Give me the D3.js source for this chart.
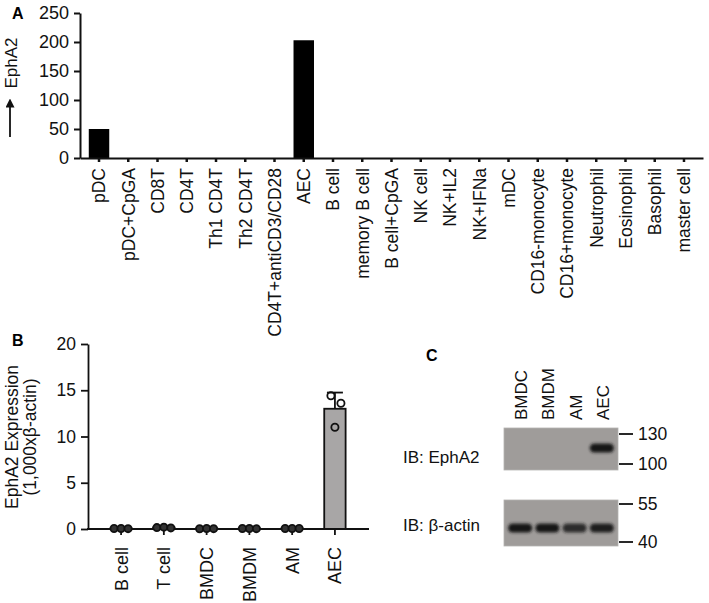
<!DOCTYPE html>
<html>
<head>
<meta charset="utf-8">
<script src="https://cdn.jsdelivr.net/npm/d3@7"></script>
<style>
  body { margin: 0; background: #fff; }
  svg { display: block; font-family: "Liberation Sans", Arial, sans-serif; }
</style>
</head>
<body>
<svg id="chart" width="709" height="603"></svg>
<script>
// ---------------- Panel A data ----------------
const cellTypesA = ["pDC", "pDC+CpGA", "CD8T", "CD4T", "Th1 CD4T", "Th2 CD4T",
  "CD4T+antiCD3/CD28", "AEC", "B cell", "memory B cell", "B cell+CpGA", "NK cell",
  "NK+IL2", "NK+IFNa", "mDC", "CD16-monocyte", "CD16+monocyte", "Neutrophil",
  "Eosinophil", "Basophil", "master cell"];
const ephA2ValuesA = [50, 0, 0, 0, 0, 0, 0, 203, 0, 0, 0, 0, 0, 0, 0, 0, 0, 0, 0, 0, 0];
const yTicksA = [0, 50, 100, 150, 200, 250];

// ---------------- Panel B data ----------------
const cellTypesB = ["B cell", "T cell", "BMDC", "BMDM", "AM", "AEC"];
const meansB = [0.05, 0.15, 0.05, 0.05, 0.05, 13.0];
const sdB = [0.05, 0.05, 0.03, 0.03, 0.03, 1.75];
const replicatesB = [
  [0.05, 0.06, 0.04],
  [0.15, 0.2, 0.12],
  [0.03, 0.05, 0.04],
  [0.05, 0.06, 0.04],
  [0.06, 0.05, 0.05],
  [14.4, 13.6, 11.0]
];
const yTicksB = [0, 5, 10, 15, 20];

// ---------------- Panel C data ----------------
const lanesC = ["BMDC", "BMDM", "AM", "AEC"];
const ephA2BandIntensity = [0, 0, 0, 1];
const actinBandIntensity = [1, 1, 0.85, 0.95];
const markersEphA2 = [130, 100];
const markersActin = [55, 40];
const ephA2BandKDa = 115;
const actinBandKDa = 45;

const svg = d3.select("#chart");
const ink = "#111";
const FF = "Liberation Sans, Arial";

// ======================= PANEL A =======================
const xA = d3.scaleBand().domain(cellTypesA).range([80, 703]).padding(0.3);
const yA = d3.scaleLinear().domain([0, 250]).range([158, 13]);

svg.append("text").attr("x", 12).attr("y", 19).attr("font-size", 16)
  .attr("font-weight", "bold").text("A");

svg.append("g").selectAll("rect").data(cellTypesA).join("rect")
  .attr("x", d => xA(d))
  .attr("width", xA.bandwidth())
  .attr("y", (d, i) => yA(ephA2ValuesA[i]))
  .attr("height", (d, i) => yA(0) - yA(ephA2ValuesA[i]))
  .attr("fill", "#000");

const gyA = svg.append("g").attr("transform", "translate(80,0)")
  .call(d3.axisLeft(yA).tickValues(yTicksA).tickSize(6).tickSizeOuter(0).tickPadding(5));
gyA.selectAll("text").attr("font-size", 18).attr("fill", ink).attr("font-family", FF);
gyA.selectAll("line,path").attr("stroke", ink).attr("stroke-width", 2);

const gxA = svg.append("g").attr("transform", `translate(0,${yA(0)})`)
  .call(d3.axisBottom(xA).tickSize(4).tickSizeOuter(0));
gxA.select(".domain").attr("stroke", ink).attr("stroke-width", 2);
gxA.selectAll(".tick line").attr("stroke", ink).attr("stroke-width", 2.5);
gxA.selectAll(".tick text")
  .attr("font-size", 17.5).attr("fill", ink).attr("font-family", FF)
  .attr("text-anchor", "end")
  .attr("transform", "rotate(-90)")
  .attr("x", -10).attr("y", 0).attr("dy", "0.36em");

// y label with arrow
svg.append("text").attr("transform", "translate(17,63) rotate(-90)")
  .attr("text-anchor", "middle").attr("font-size", 17).attr("fill", ink).text("EphA2");
const defs = svg.append("defs");
defs.append("marker").attr("id", "ah").attr("viewBox", "0 0 10 10")
  .attr("refX", 5).attr("refY", 5).attr("markerWidth", 5).attr("markerHeight", 5)
  .attr("orient", "auto").append("path").attr("d", "M0,0 L10,5 L0,10 z").attr("fill", ink);
svg.append("line").attr("x1", 10).attr("x2", 10).attr("y1", 137).attr("y2", 103)
  .attr("stroke", ink).attr("stroke-width", 1.8).attr("marker-end", "url(#ah)");

// ======================= PANEL B =======================
const xB = d3.scaleBand().domain(cellTypesB).range([89, 367]).padding(0.5);
const yB = d3.scaleLinear().domain([0, 20]).range([529, 344]);

svg.append("text").attr("x", 12).attr("y", 346).attr("font-size", 16)
  .attr("font-weight", "bold").text("B");

svg.append("g").selectAll("rect").data(cellTypesB).join("rect")
  .attr("x", d => xB(d))
  .attr("width", xB.bandwidth())
  .attr("y", (d, i) => yB(meansB[i]))
  .attr("height", (d, i) => yB(0) - yB(meansB[i]))
  .attr("fill", "#a8a6a6").attr("stroke", ink).attr("stroke-width", 1.8);

const errG = svg.append("g").attr("stroke", ink).attr("stroke-width", 1.8);
cellTypesB.forEach((c, i) => {
  const cx = xB(c) + xB.bandwidth() / 2;
  errG.append("line").attr("x1", cx).attr("x2", cx)
    .attr("y1", yB(meansB[i])).attr("y2", yB(meansB[i] + sdB[i]));
  errG.append("line").attr("x1", cx - 8).attr("x2", cx + 8)
    .attr("y1", yB(meansB[i] + sdB[i])).attr("y2", yB(meansB[i] + sdB[i]));
});

const gyB = svg.append("g").attr("transform", "translate(88,0)")
  .call(d3.axisLeft(yB).tickValues(yTicksB).tickSize(7).tickSizeOuter(0).tickPadding(5));
gyB.selectAll("text").attr("font-size", 17.5).attr("fill", ink).attr("font-family", FF);
gyB.selectAll("line,path").attr("stroke", ink).attr("stroke-width", 1.8);

const gxB = svg.append("g").attr("transform", `translate(0,${yB(0)})`)
  .call(d3.axisBottom(xB).tickSize(6).tickSizeOuter(0));
gxB.select(".domain").attr("stroke", ink).attr("stroke-width", 1.8)
  .attr("d", "M87,0H369");
gxB.selectAll(".tick line").attr("stroke", ink).attr("stroke-width", 1.8);
gxB.selectAll(".tick text")
  .attr("font-size", 18).attr("fill", ink).attr("font-family", FF)
  .attr("text-anchor", "end")
  .attr("transform", "rotate(-90)")
  .attr("x", -18).attr("y", 0).attr("dy", "0.36em");

const ptG = svg.append("g");
replicatesB.forEach((vals, i) => {
  const cx = xB(cellTypesB[i]) + xB.bandwidth() / 2;
  vals.forEach((v, j) => {
    const off = i === 5 ? [-4, 6, 0][j] : (j - 1) * 7;
    ptG.append("circle").attr("cx", cx + off).attr("cy", yB(v)).attr("r", 3.6)
      .attr("fill", i === 5 ? "none" : "#333").attr("stroke", ink).attr("stroke-width", 1.8);
  });
});

svg.append("text").attr("transform", "translate(18,437) rotate(-90)")
  .attr("text-anchor", "middle").attr("font-size", 17.5).attr("fill", ink).text("EphA2 Expression");
svg.append("text").attr("transform", "translate(36,437) rotate(-90)")
  .attr("text-anchor", "middle").attr("font-size", 17.5).attr("fill", ink).text("(1,000xβ-actin)");

// ======================= PANEL C =======================
svg.append("text").attr("x", 426).attr("y", 361).attr("font-size", 16)
  .attr("font-weight", "bold").text("C");

const xC = d3.scaleBand().domain(lanesC).range([506, 616]).padding(0.04);
const blur = defs.append("filter").attr("id", "blur").attr("x", "-30%").attr("y", "-80%")
  .attr("width", "160%").attr("height", "260%");
blur.append("feGaussianBlur").attr("stdDeviation", 1.8);

svg.append("g").selectAll("text").data(lanesC).join("text")
  .attr("transform", d => `translate(${xC(d) + xC.bandwidth() / 2 + 7},420) rotate(-90)`)
  .attr("font-size", 17).attr("fill", ink).text(d => d);

function blot(top, bottom, markers, inset, bandKDa, intensities, label, labelY) {
  const y = d3.scaleLog().domain([markers[0], markers[1]]).range([top + inset, bottom - inset]);
  const g = svg.append("g");
  g.append("rect").attr("x", 504).attr("y", top).attr("width", 114).attr("height", bottom - top)
    .attr("fill", "#9f9c9a").attr("stroke", "#b5b3b1").attr("stroke-width", 0.8);
  g.append("g").attr("filter", "url(#blur)").selectAll("rect")
    .data(lanesC).join("rect")
    .attr("x", d => xC(d) + 1)
    .attr("width", xC.bandwidth() - 2)
    .attr("y", y(bandKDa) - 4.5)
    .attr("height", 9)
    .attr("rx", 4.5)
    .attr("fill", "#141414")
    .attr("opacity", (d, i) => intensities[i]);
  markers.forEach(m => {
    g.append("line").attr("x1", 619).attr("x2", 633).attr("y1", y(m)).attr("y2", y(m))
      .attr("stroke", ink).attr("stroke-width", 1.8);
    g.append("text").attr("x", 638).attr("y", y(m)).attr("dy", "0.36em")
      .attr("font-size", 17.5).attr("fill", ink).text(m);
  });
  svg.append("text").attr("x", 403).attr("y", labelY).attr("dy", "0.36em")
    .attr("font-size", 17).attr("fill", ink).text(label);
}
blot(428, 470, markersEphA2, 6, ephA2BandKDa, ephA2BandIntensity, "IB: EphA2", 457);
blot(500, 546, markersActin, 4, actinBandKDa, actinBandIntensity, "IB: β-actin", 525);
</script>
</body>
</html>
